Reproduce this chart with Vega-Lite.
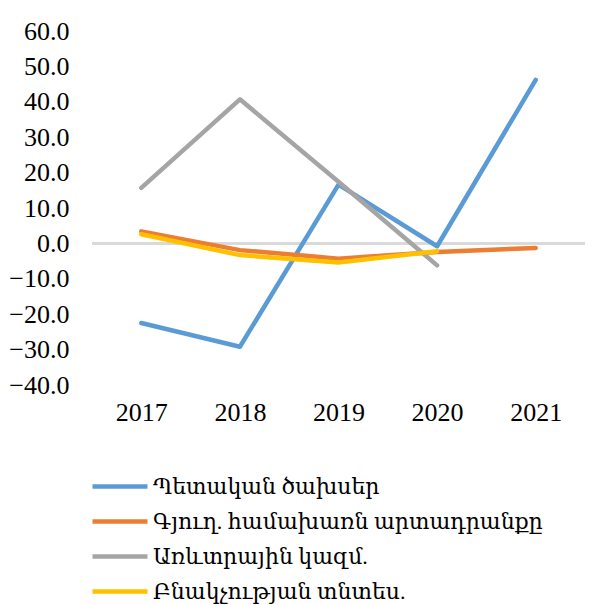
{
  "$schema": "https://vega.github.io/schema/vega-lite/v6.json",
  "width": 493,
  "height": 354,
  "autosize": {"type": "none"},
  "padding": {"left": 92, "top": 31, "right": 26, "bottom": 220},
  "background": "white",
  "config": {
    "view": {"stroke": null},
    "font": "Liberation Serif",
    "axis": {"labelFont": "Liberation Serif", "labelFontSize": 26, "labelColor": "#000000"},
    "axisY": {"labelOverlap": false, "labelFontSize": 26},
    "axisX": {"labelFontSize": 26},
    "legend": {"labelFont": "Liberation Serif, DejaVu Serif", "labelFontSize": 22, "labelColor": "#000000"}
  },
  "data": {
    "values": [
      {"year": "2017", "series": "Պետական ծախսեր", "value": -22.5},
      {"year": "2018", "series": "Պետական ծախսեր", "value": -29.2},
      {"year": "2019", "series": "Պետական ծախսեր", "value": 16.6},
      {"year": "2020", "series": "Պետական ծախսեր", "value": -0.8},
      {"year": "2021", "series": "Պետական ծախսեր", "value": 46.2},
      {"year": "2017", "series": "Գյուղ. համախառն արտադրանքը", "value": 3.4},
      {"year": "2018", "series": "Գյուղ. համախառն արտադրանքը", "value": -1.9},
      {"year": "2019", "series": "Գյուղ. համախառն արտադրանքը", "value": -4.3},
      {"year": "2020", "series": "Գյուղ. համախառն արտադրանքը", "value": -2.4},
      {"year": "2021", "series": "Գյուղ. համախառն արտադրանքը", "value": -1.3},
      {"year": "2017", "series": "Առևտրային կազմ.", "value": 15.7},
      {"year": "2018", "series": "Առևտրային կազմ.", "value": 40.7},
      {"year": "2019", "series": "Առևտրային կազմ.", "value": 17.4},
      {"year": "2020", "series": "Առևտրային կազմ.", "value": -6.2},
      {"year": "2017", "series": "Բնակչության տնտես.", "value": 2.6},
      {"year": "2018", "series": "Բնակչության տնտես.", "value": -3.3},
      {"year": "2019", "series": "Բնակչության տնտես.", "value": -5.4},
      {"year": "2020", "series": "Բնակչության տնտես.", "value": -2.2}
    ]
  },
  "layer": [
    {
      "mark": {"type": "rule", "color": "#d9d9d9", "strokeWidth": 2},
      "encoding": {
        "y": {
          "datum": 0, "type": "quantitative", "title": null,
          "scale": {"domain": [-40, 60], "nice": false, "zero": false},
          "axis": {"values": [-40, -30, -20, -10, 0, 10, 20, 30, 40, 50, 60], "format": ".1f", "domain": false, "ticks": false, "grid": false, "labelPadding": 23, "labelOverlap": false, "labelFlush": false}
        }
      }
    },
    {
      "mark": {"type": "line", "strokeWidth": 4.5, "strokeCap": "round", "strokeJoin": "round"},
      "encoding": {
        "x": {
          "field": "year", "type": "ordinal", "title": null,
          "scale": {"paddingInner": 0, "paddingOuter": 0.5},
          "axis": {"domain": false, "ticks": false, "labelAngle": 0, "labelPadding": 14, "grid": false}
        },
        "y": {
          "field": "value", "type": "quantitative", "title": null,
          "scale": {"domain": [-40, 60], "nice": false, "zero": false},
          "axis": {"values": [-40, -30, -20, -10, 0, 10, 20, 30, 40, 50, 60], "format": ".1f", "domain": false, "ticks": false, "grid": false, "labelPadding": 23, "labelOverlap": false, "labelFlush": false}
        },
        "color": {
          "field": "series", "type": "nominal", "title": null,
          "sort": null,
          "scale": {
            "domain": ["Պետական ծախսեր", "Գյուղ. համախառն արտադրանքը", "Առևտրային կազմ.", "Բնակչության տնտես."],
            "range": ["#5B9BD5", "#ED7D31", "#A5A5A5", "#FFC000"]
          },
          "legend": {
            "orient": "none", "legendX": -2, "legendY": 438,
            "direction": "vertical",
            "symbolType": "stroke", "symbolSize": 3025, "symbolStrokeWidth": 4.5,
            "clipHeight": 35,
            "labelOffset": 3, "rowPadding": 0, "labelLimit": 0
          }
        }
      }
    }
  ]
}
